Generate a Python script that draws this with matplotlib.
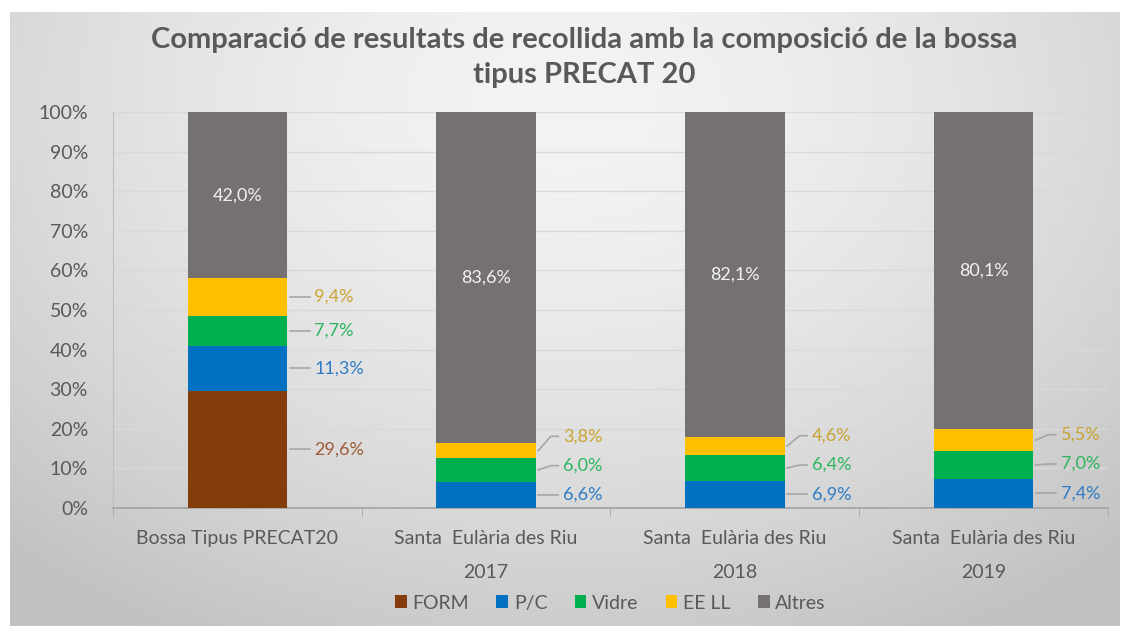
import matplotlib.pyplot as plt
import numpy as np

categories = ["Bossa Tipus PRECAT20", "Santa  Eulària des Riu\n2017",
              "Santa  Eulària des Riu\n2018", "Santa  Eulària des Riu\n2019"]
series = ["FORM", "P/C", "Vidre", "EE LL", "Altres"]
form = [29.6, 0.0, 0.0, 0.0]
pc = [11.3, 6.6, 6.9, 7.4]
vidre = [7.7, 6.0, 6.4, 7.0]
eell = [9.4, 3.8, 4.6, 5.5]
altres = [42.0, 83.6, 82.1, 80.1]

colors = ["#843C0C", "#0070C0", "#00B050", "#FFC000", "#767171"]
label_colors = ["#9E5A36", "#2E7BC4", "#2DB65F", "#C9A432", "#F2F2F2"]

plt.rcParams['font.family'] = ['Lato', 'DejaVu Sans']

fig = plt.figure(figsize=(11.3, 6.26), dpi=100)
fig.patch.set_facecolor('white')

# gradient background box
bg = fig.add_axes([0.009, 0.0, 0.982, 0.981])
yy, xx = np.mgrid[0:1:300j, 0:1:600j]
r = np.sqrt(((xx - 0.5) / 0.75) ** 2 + ((yy - 0.15) / 1.0) ** 2)
shade = 0.955 - 0.2 * np.clip(r, 0, 1) ** 1.6
bg.imshow(np.dstack([shade] * 3), aspect='auto', extent=[0, 1, 1, 0])
bg.axis('off')

ax = fig.add_axes([0.1, 0.1885, 0.8805, 0.6325])
ax.set_facecolor('none')

values = [form, pc, vidre, eell, altres]
x = np.arange(len(categories))
width = 0.4
bottom = np.zeros(len(categories))
centers = []
for vals, name, c in zip(values, series, colors):
    v = np.array(vals)
    ax.bar(x, v, width, bottom=bottom, color=c, label=name, zorder=3)
    centers.append(bottom + v / 2)
    bottom = bottom + v

# data labels
for i in range(len(categories)):
    last = -100
    for s in range(4):
        v = values[s][i]
        if v <= 0:
            continue
        cy = centers[s][i]
        ly = max(cy, last + 7.4)
        last = ly
        x0 = x[i] + width / 2 + 0.01
        ax.plot([x0, x0 + 0.05, x0 + 0.08], [cy, ly, ly], color='#A6A6A6',
                lw=1.2, zorder=4, clip_on=False)
        ax.text(x0 + 0.1, ly, f"{v:.1f}%".replace('.', ','), color=label_colors[s],
                fontsize=13, va='center', ha='left')
    ax.text(x[i], centers[4][i], f"{values[4][i]:.1f}%".replace('.', ','),
            color=label_colors[4], fontsize=13, va='center', ha='center', zorder=5)

ax.set_xlim(-0.5, 3.5)
ax.set_ylim(0, 100)
ax.set_yticks(np.arange(0, 101, 10))
ax.set_yticklabels([f"{t}%" for t in range(0, 101, 10)], fontsize=14, color='#595959')
ax.yaxis.grid(True, color='#D9D9D9', lw=1, zorder=0)
ax.tick_params(axis='y', length=0, pad=18)
ax.set_xticks(x)
ax.set_xticklabels(categories, fontsize=14, color='#595959', linespacing=2.2)
ax.tick_params(axis='x', length=0, pad=16)
ax.set_xticks(np.arange(-0.5, 4, 1), minor=True)
ax.tick_params(axis='x', which='minor', length=6, color='#A6A6A6', direction='out')
for sp in ['top', 'right']:
    ax.spines[sp].set_visible(False)
ax.spines['left'].set_color('#BFBFBF')
ax.spines['bottom'].set_color('#A6A6A6')
ax.spines['bottom'].set_linewidth(1.3)

fig.text(0.517, 0.908, "Comparació de resultats de recollida amb la composició de la bossa\ntipus PRECAT 20",
         ha='center', va='center', fontsize=21, fontweight='bold', color='#595959', linespacing=1.45)

leg = ax.legend(loc='center', bbox_to_anchor=(0.5, -0.24), ncol=5, frameon=False,
                fontsize=14, handlelength=0.6, handleheight=0.6, handletextpad=0.3,
                columnspacing=1.4, labelcolor='#595959')

fig.savefig('out.png', dpi=100)
